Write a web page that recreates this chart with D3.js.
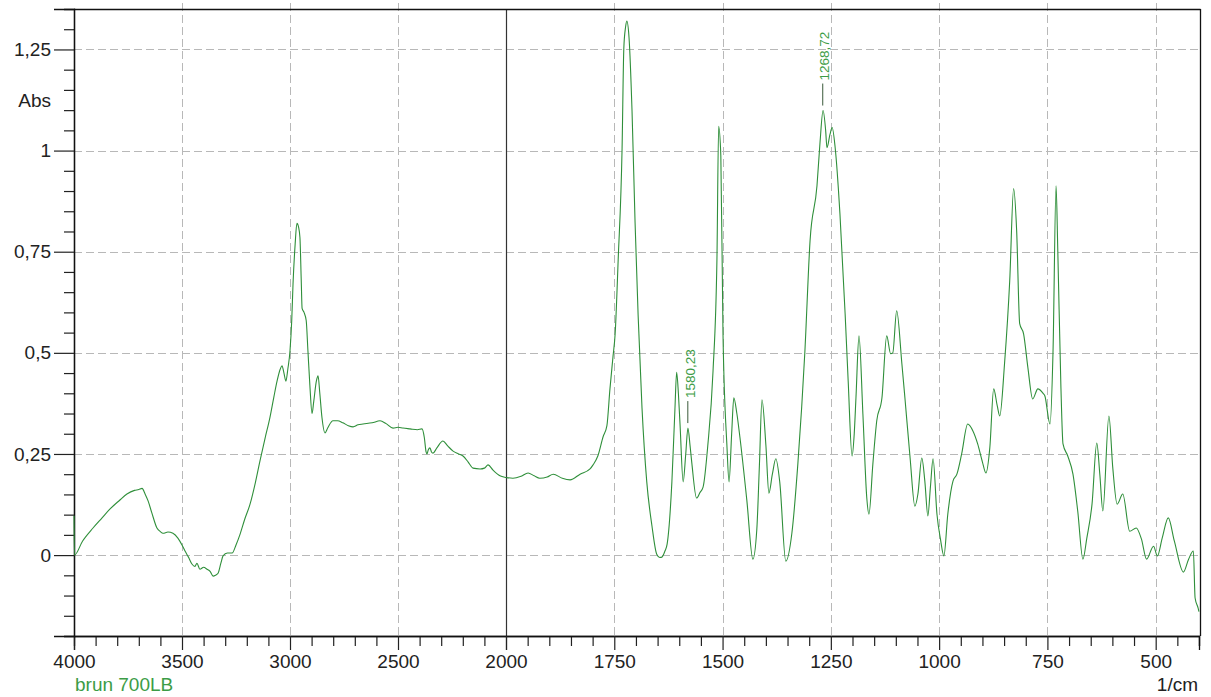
<!DOCTYPE html>
<html>
<head>
<meta charset="utf-8">
<script src="https://cdn.jsdelivr.net/npm/d3@7"></script>
<style>
  html, body { margin: 0; padding: 0; background: #fff; }
  svg { display: block; font-family: "Liberation Sans", Arial, sans-serif; }
</style>
</head>
<body>
<svg id="chart" width="1211" height="697"></svg>
<script>
// ---- data ----
const wavenumber = [
  4000,3998,3960,3912,3870,3833,3790,3755,3720,3700,3685,3670,3657,3640,3616,3600,3588,3565,3542,3519,
  3500,3486,3470,3454,3440,3431,3417,3400,3384,3370,3356,3345,3333,3320,3310,3290,3268,3250,3231,3210,
  3185,3160,3139,3115,3093,3075,3060,3045,3037,3028,3019,3010,3000,2992,2986,2976,2968,2960,2954,2948,
  2944,2935,2925,2917,2908,2898,2890,2878,2870,2862,2852,2838,2825,2801,2780,2755,2730,2708,2685,2662,
  2620,2583,2555,2523,2500,2477,2444,2410,2389,2378,2370,2366,2360,2352,2345,2338,2320,2292,2270,2245,
  2220,2199,2175,2153,2120,2100,2083,2060,2028,2000,1984,1965,1949,1935,1922,1905,1891,1870,1852,1829,
  1806,1799,1788,1776,1767,1760,1753,1748,1741,1732,1728,1724,1721,1716,1709,1702,1695,1686,1675,1663,
  1652,1645,1640,1633,1628,1617,1610,1606,1602,1598,1591,1585,1580,1575,1571,1560,1552,1545,1534,1522,
  1513,1509,1504,1499,1490,1485,1479,1474,1467,1460,1444,1430,1421,1415,1409,1400,1393,1385,1377,1368,
  1354,1340,1326,1310,1298,1282,1275,1268,1262,1259,1252,1247,1240,1229,1217,1210,1201,1196,1192,1185,
  1176,1167,1162,1153,1144,1132,1121,1112,1107,1098,1086,1079,1067,1056,1049,1040,1033,1026,1020,1014,
  1005,997,989,980,968,959,948,934,922,911,900,892,883,874,866,860,849,837,828,821,
  814,805,795,784,772,760,756,744,737,730,726,719,714,703,691,680,668,659,647,636,
  629,622,608,599,589,576,560,545,533,521,505,496,485,471,457,436,424,413,409,402,400
];
const absorbance = [
  0.097,0.0,0.035,0.067,0.092,0.114,0.135,0.151,0.160,0.162,0.165,0.150,0.134,0.105,0.067,0.058,0.054,0.057,0.054,0.042,
  0.025,0.010,-0.005,-0.022,-0.028,-0.020,-0.035,-0.030,-0.035,-0.040,-0.052,-0.050,-0.045,-0.020,-0.002,0.005,0.005,0.025,0.052,0.088,
  0.126,0.180,0.233,0.290,0.340,0.390,0.430,0.460,0.468,0.450,0.430,0.460,0.505,0.580,0.670,0.770,0.820,0.810,0.785,0.680,
  0.610,0.600,0.580,0.505,0.420,0.350,0.380,0.430,0.443,0.400,0.340,0.302,0.315,0.332,0.332,0.327,0.320,0.317,0.322,0.324,
  0.327,0.332,0.325,0.314,0.316,0.314,0.312,0.310,0.312,0.290,0.255,0.250,0.260,0.265,0.255,0.252,0.265,0.282,0.270,0.257,
  0.250,0.245,0.230,0.215,0.213,0.215,0.223,0.210,0.196,0.192,0.190,0.195,0.203,0.196,0.190,0.193,0.200,0.190,0.186,0.200,
  0.213,0.223,0.245,0.292,0.320,0.411,0.490,0.547,0.730,1.005,1.252,1.305,1.320,1.280,1.097,0.822,0.594,0.364,0.181,0.072,
  0.002,-0.006,-0.005,0.010,0.027,0.181,0.360,0.452,0.400,0.319,0.181,0.250,0.314,0.270,0.228,0.141,0.155,0.168,0.272,0.455,
  0.730,1.060,0.987,0.547,0.272,0.181,0.300,0.389,0.350,0.292,0.136,-0.010,0.062,0.220,0.384,0.272,0.153,0.200,0.238,0.181,
  -0.015,0.054,0.228,0.502,0.777,0.913,1.020,1.099,1.050,1.007,1.040,1.057,1.007,0.844,0.596,0.431,0.245,0.300,0.389,0.542,
  0.349,0.141,0.101,0.225,0.332,0.389,0.542,0.498,0.500,0.604,0.473,0.389,0.240,0.121,0.151,0.240,0.183,0.097,0.170,0.238,
  0.101,0.040,-0.002,0.101,0.183,0.200,0.250,0.324,0.307,0.275,0.230,0.203,0.265,0.411,0.370,0.344,0.473,0.678,0.906,0.802,
  0.572,0.547,0.463,0.386,0.411,0.400,0.394,0.324,0.505,0.913,0.752,0.423,0.275,0.245,0.200,0.109,-0.010,0.042,0.126,0.277,
  0.200,0.109,0.344,0.215,0.126,0.151,0.059,0.067,0.040,-0.010,0.022,-0.002,0.042,0.092,0.035,-0.042,-0.010,0.010,-0.106,-0.131,-0.140
];

const xMajorTicks = [4000,3500,3000,2500,2000,1750,1500,1250,1000,750,500];
const xTickLabels = ["4000","3500","3000","2500","2000","1750","1500","1250","1000","750","500"];
const yMajorTicks = [0,0.25,0.5,0.75,1,1.25];
const yTickLabels = ["0","0,25","0,5","0,75","1","1,25"];

const peakPositions = [1580.23, 1268.72];
const peakLabels = ["1580,23", "1268,72"];
const peakValues = [0.314, 1.099];

const sampleName = "brun 700LB";
const yTitle = "Abs";
const xUnit = "1/cm";

(function () {
// ---- layout ----
const pL = 74, pR = 1200, pT = 9, pB = 636;
const svg = d3.select("#chart");

const x = d3.scaleLinear().domain([4000, 2000, 400]).range([pL, 506, 1199]);
const y = d3.scaleLinear().domain([-0.2, 1.35]).range([pB, pT]);

const lineColor = "#2f8f3a";
const textGreen = "#3c9c46";

// minor ticks
const xMinor = [];
for (let v = 3900; v > 2000; v -= 100) if (v % 500 !== 0) xMinor.push(v);
for (let v = 1950; v >= 400; v -= 50) if (v % 250 !== 0) xMinor.push(v);
const yMinor = [];
for (let i = -4; i <= 26; i++) { const v = i * 0.05; if (i % 5 !== 0) yMinor.push(+v.toFixed(2)); }

// grid
const grid = svg.append("g");
grid.selectAll("line.vg").data(xMajorTicks.filter(d => d !== 4000 && d !== 2000)).join("line")
  .attr("x1", d => Math.round(x(d)) + 0.5).attr("x2", d => Math.round(x(d)) + 0.5)
  .attr("y1", 3).attr("y2", pB)
  .attr("stroke", "#b8b8b8").attr("stroke-width", 1).attr("stroke-dasharray", "8,4");
grid.selectAll("line.hg").data(yMajorTicks).join("line")
  .attr("x1", pL).attr("x2", pR)
  .attr("y1", d => Math.round(y(d)) + 0.5).attr("y2", d => Math.round(y(d)) + 0.5)
  .attr("stroke", "#b8b8b8").attr("stroke-width", 1).attr("stroke-dasharray", "8,4");

// solid separator at 2000
svg.append("line")
  .attr("x1", Math.round(x(2000)) + 0.5).attr("x2", Math.round(x(2000)) + 0.5)
  .attr("y1", pT).attr("y2", pB + 14)
  .attr("stroke", "#333").attr("stroke-width", 1.2);

// frame top and right
svg.append("line").attr("x1", pL).attr("x2", pR + 0.5).attr("y1", pT + 0.5).attr("y2", pT + 0.5)
  .attr("stroke", "#111").attr("stroke-width", 1.3);
svg.append("line").attr("x1", pR + 0.5).attr("x2", pR + 0.5).attr("y1", pT).attr("y2", pB)
  .attr("stroke", "#111").attr("stroke-width", 1.3);

// x axis
const xAxisMinor = d3.axisBottom(x).tickValues(xMinor).tickSize(10).tickFormat("");
const xAxisMajor = d3.axisBottom(x).tickValues(xMajorTicks).tickSize(14).tickPadding(5)
  .tickFormat((d, i) => xTickLabels[i]);
const gxm = svg.append("g").attr("transform", `translate(0,${pB})`).call(xAxisMinor);
const gx = svg.append("g").attr("transform", `translate(0,${pB})`).call(xAxisMajor);
[gxm, gx].forEach(g => {
  g.select(".domain").attr("stroke", "#111").attr("stroke-width", 1.3);
  g.selectAll(".tick line").attr("stroke", "#222").attr("stroke-width", 1.2);
});
gx.selectAll(".tick text").attr("font-size", 19).attr("fill", "#222")
  .attr("font-family", "Liberation Sans, Arial, sans-serif");

// y axis
const yAxisMinor = d3.axisLeft(y).tickValues(yMinor).tickSize(10).tickFormat("");
const yAxisMajor = d3.axisLeft(y).tickValues(yMajorTicks).tickSize(20).tickPadding(3)
  .tickFormat((d, i) => yTickLabels[i]);
const gym = svg.append("g").attr("transform", `translate(${pL},0)`).call(yAxisMinor);
const gy = svg.append("g").attr("transform", `translate(${pL},0)`).call(yAxisMajor);
[gym, gy].forEach(g => {
  g.select(".domain").attr("stroke", "#111").attr("stroke-width", 1.3);
  g.selectAll(".tick line").attr("stroke", "#222").attr("stroke-width", 1.2);
});
gy.selectAll(".tick text").attr("font-size", 19).attr("fill", "#222")
  .attr("font-family", "Liberation Sans, Arial, sans-serif");

// axis titles
svg.append("text").attr("x", 51).attr("y", y(1.125)).attr("dy", "0.35em")
  .attr("text-anchor", "end").attr("font-size", 19).attr("fill", "#222").text(yTitle);
svg.append("text").attr("x", 1198).attr("y", 691)
  .attr("text-anchor", "end").attr("font-size", 19).attr("fill", "#222").text(xUnit);
svg.append("text").attr("x", 75).attr("y", 691)
  .attr("text-anchor", "start").attr("font-size", 19).attr("fill", textGreen).text(sampleName);

// spectrum
const pts = wavenumber.map((w, i) => [w, absorbance[i]]);
const line = d3.line().x(d => x(d[0])).y(d => y(d[1])).curve(d3.curveMonotoneX);
svg.append("path").datum(pts).attr("d", line)
  .attr("fill", "none").attr("stroke", lineColor).attr("stroke-width", 1.1)
  .attr("stroke-linejoin", "round");

// peak annotations
peakPositions.forEach((p, i) => {
  const px = x(p), py = y(peakValues[i]);
  svg.append("line")
    .attr("x1", px).attr("x2", px).attr("y1", py - 5).attr("y2", py - 27)
    .attr("stroke", "#3a5a3a").attr("stroke-width", 1);
  svg.append("text")
    .attr("transform", `translate(${px + 2},${py - 30}) rotate(-90)`)
    .attr("dy", "0.35em").attr("text-anchor", "start")
    .attr("font-size", 13.5).attr("fill", textGreen).text(peakLabels[i]);
});
})();
</script>
</body>
</html>
